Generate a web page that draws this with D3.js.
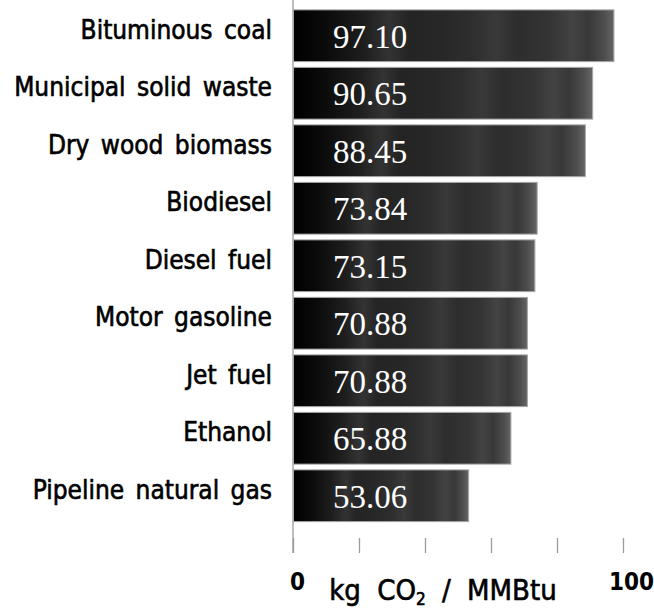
<!DOCTYPE html>
<html><head><meta charset="utf-8">
<script src="https://cdn.jsdelivr.net/npm/d3@7"></script>
<style>
html,body{margin:0;padding:0;background:#fff;}
svg{display:block;}
</style></head>
<body>
<svg id="chart" width="654" height="609"></svg>
<script>
const categories = ["Bituminous coal","Municipal solid waste","Dry wood biomass","Biodiesel","Diesel fuel","Motor gasoline","Jet fuel","Ethanol","Pipeline natural gas"];
const values = [97.10, 90.65, 88.45, 73.84, 73.15, 70.88, 70.88, 65.88, 53.06];
const valueLabels = ["97.10","90.65","88.45","73.84","73.15","70.88","70.88","65.88","53.06"];
const tickValues = [0, 20, 40, 60, 80, 100];
const tickLabels = {0: "0", 100: "100"};

const svg = d3.select("#chart");
const x = d3.scaleLinear().domain([0, 100]).range([293, 623]);
const y = d3.scaleBand().domain(categories).range([7, 524.5]).paddingInner(0.1).paddingOuter(0.05);

const sans = "'DejaVu Sans Condensed', 'DejaVu Sans', sans-serif";

// gradient
const defs = svg.append("defs");
const g = defs.append("linearGradient").attr("id","barGrad").attr("x1","0").attr("x2","1").attr("y1","0").attr("y2","0");
[[0,"#000"],[0.1,"#0b0b0b"],[0.22,"#1e1e1e"],[0.3,"#333"],[0.36,"#242424"],[0.46,"#272727"],[0.56,"#2e2e2e"],[0.63,"#393939"],[0.7,"#2d2d2d"],[0.8,"#343434"],[0.87,"#434343"],[0.92,"#383838"],[0.97,"#4e4e4e"],[1,"#666"]]
  .forEach(([o,c]) => g.append("stop").attr("offset", o).attr("stop-color", c));

// axis line
svg.append("line").attr("x1", x(0)).attr("x2", x(0)).attr("y1", 0).attr("y2", 553)
  .attr("stroke", "#9a9a9a").attr("stroke-width", 1.3);

// bars
svg.selectAll("rect.bar").data(categories).enter().append("rect")
  .attr("class","bar")
  .attr("x", x(0) + 0.5)
  .attr("y", d => y(d))
  .attr("width", (d,i) => x(values[i]) - x(0))
  .attr("height", y.bandwidth())
  .attr("fill", "url(#barGrad)")
  .attr("stroke", "#a8a8a8").attr("stroke-width", 1);

// value labels
svg.selectAll("text.val").data(categories).enter().append("text")
  .attr("class","val")
  .attr("x", x(0) + 77)
  .attr("y", d => y(d) + y.bandwidth()/2 + 12)
  .attr("text-anchor","middle")
  .attr("fill","#fff")
  .style("font-family","'Liberation Serif', serif")
  .style("font-size","33px")
  .text((d,i) => valueLabels[i]);

// category labels
svg.selectAll("text.cat").data(categories).enter().append("text")
  .attr("class","cat")
  .attr("x", 272)
  .attr("y", d => y(d) + y.bandwidth()/2 + 3)
  .attr("text-anchor","end")
  .attr("fill","#000")
  .attr("stroke","#000").attr("stroke-width",0.6)
  .style("font-family", sans)
  .style("font-size","26px")
  .style("word-spacing","4px")
  .text(d => d);

// bottom axis
const axis = d3.axisBottom(x).tickValues(tickValues).tickSize(15).tickPadding(20)
  .tickFormat(d => tickLabels[d] || "");
const ax = svg.append("g").attr("transform","translate(0,538)").call(axis);
ax.select(".domain").remove();
ax.selectAll(".tick line").attr("stroke","#9a9a9a").attr("stroke-width",1.3);
ax.selectAll(".tick text")
  .attr("fill","#000")
  .style("font-family", sans)
  .style("font-weight","bold")
  .style("font-size","24px")
  .attr("dx", d => d === 0 ? 4 : 8);

// title
const t = svg.append("text").attr("x", 443).attr("y", 600).attr("text-anchor","middle")
  .attr("fill","#000")
  .attr("stroke","#000").attr("stroke-width",0.6)
  .style("font-family", sans)
  .style("font-size","29px")
  .style("word-spacing","8px");
t.append("tspan").text("kg CO");
t.append("tspan").attr("dy", 5).style("font-size","17px").text("2");
t.append("tspan").attr("dy", -5).text(" / MMBtu");
</script>
</body></html>
